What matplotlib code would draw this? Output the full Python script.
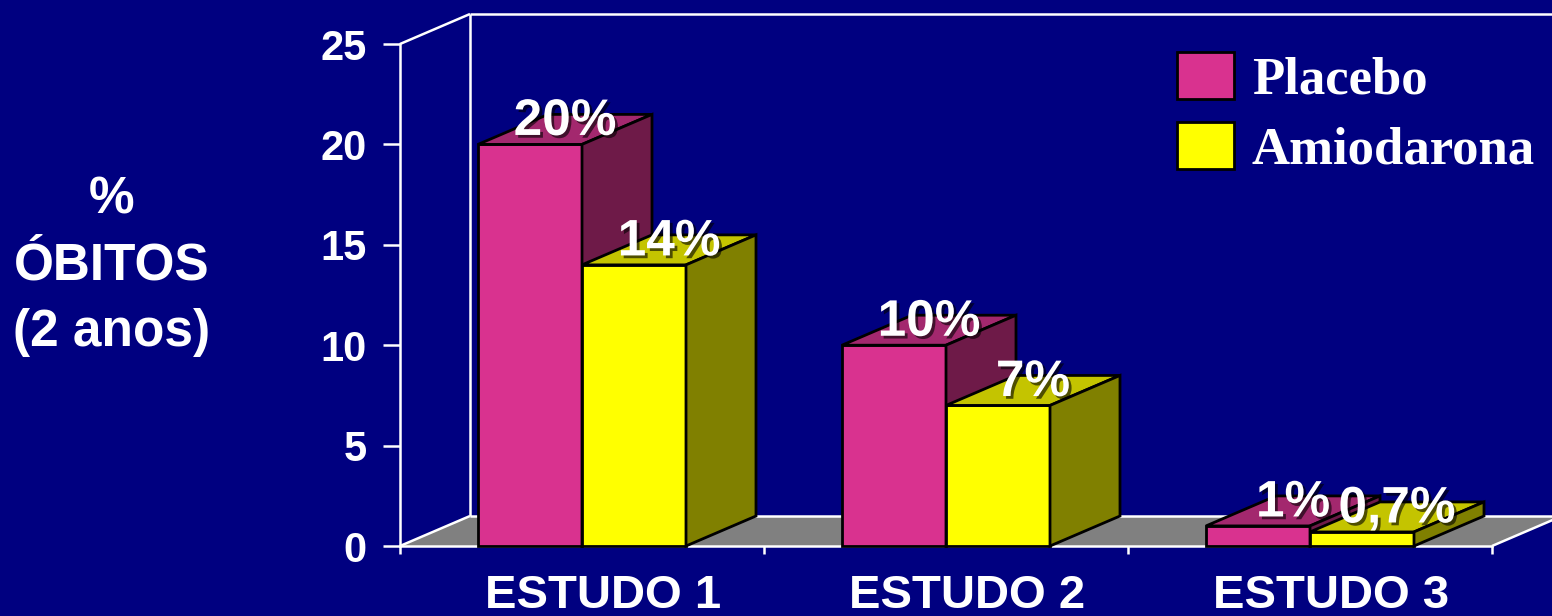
import matplotlib
matplotlib.use('Agg')
import matplotlib.pyplot as plt
from matplotlib.patches import Polygon, Patch
import matplotlib.patheffects as pe

# dados
estudos = ['ESTUDO 1', 'ESTUDO 2', 'ESTUDO 3']
placebo = [20, 10, 1]
amiodarona = [14, 7, 0.7]
rotulos_placebo = ['20%', '10%', '1%']
rotulos_amiodarona = ['14%', '7%', '0,7%']
series = ['Placebo', 'Amiodarona']
yticks = [0, 5, 10, 15, 20, 25]

NAVY = '#000080'
GRAY = '#808080'
PINK = ('#D9328F', '#A3286E', '#6E1A48')      # frente, topo, lado
YELLOW = ('#FFFF00', '#C4C400', '#808000')

W, H = 1552, 616
x0, y0 = 400, 546          # origem do gráfico (px)
sx, sy = 364, 20.08        # px por categoria / px por %
DX, DY = 70 / sx, 30 / sy  # profundidade 3D
BAR_W = 104 / sx
GAP = (1 - 2 * BAR_W) / 2

plt.rcParams['font.family'] = ['Liberation Sans', 'DejaVu Sans']
plt.rcParams['font.weight'] = 'bold'

fig = plt.figure(figsize=(W / 100, H / 100), dpi=100, facecolor=NAVY)
ax = fig.add_axes([0, 0, 1, 1])
ax.set_facecolor(NAVY)
ax.set_xlim(-x0 / sx, (W - x0) / sx)
ax.set_ylim(-(H - y0) / sy, y0 / sy)
xmax = (W - x0) / sx + 0.1
ymax = yticks[-1]
n = len(estudos)

# piso e paredes
ax.add_patch(Polygon([(0, 0), (n, 0), (n + DX, DY), (DX, DY)],
                     closed=True, facecolor=GRAY, edgecolor='none', zorder=1))
lw = 1.8
for xs, ys in [([n, n + DX], [0, DY]),
               ([DX, xmax], [DY, DY]),
               ([0, DX], [0, DY]),
               ([DX, DX], [DY, ymax + DY]),
               ([0, DX], [ymax, ymax + DY]),
               ([DX, xmax], [ymax + DY, ymax + DY])]:
    ax.plot(xs, ys, color='white', lw=lw, zorder=2, solid_capstyle='butt')

# eixos
for s in ['top', 'right']:
    ax.spines[s].set_visible(False)
ax.spines['left'].set_position(('data', 0))
ax.spines['left'].set_bounds(0, ymax)
ax.spines['bottom'].set_position(('data', 0))
ax.spines['bottom'].set_bounds(0, n)
for s in ['left', 'bottom']:
    ax.spines[s].set_color('white')
    ax.spines[s].set_linewidth(lw)
    ax.spines[s].set_zorder(2)
ax.set_yticks(yticks)
ax.set_yticklabels([str(t) for t in yticks])
ax.set_xticks(range(n + 1))
ax.set_xticklabels([])
ax.tick_params(axis='y', direction='out', length=12, width=lw, color='white',
               labelcolor='white', labelsize=30, pad=12)
ax.tick_params(axis='x', direction='out', length=6, width=lw, color='white')


def barra(x, h, cores):
    frente, topo, lado = cores
    kw = dict(closed=True, edgecolor='black', lw=2, joinstyle='miter', zorder=3)
    ax.add_patch(Polygon([(x, 0), (x + BAR_W, 0), (x + BAR_W, h), (x, h)],
                         facecolor=frente, **kw))
    ax.add_patch(Polygon([(x, h), (x + BAR_W, h), (x + BAR_W + DX, h + DY), (x + DX, h + DY)],
                         facecolor=topo, **kw))
    ax.add_patch(Polygon([(x + BAR_W, 0), (x + BAR_W + DX, DY), (x + BAR_W + DX, h + DY), (x + BAR_W, h)],
                         facecolor=lado, **kw))


sombra = [pe.withSimplePatchShadow(offset=(2, -2), shadow_rgbFace='black', alpha=0.6)]
for i in range(n):
    for k, (vals, rot, cores) in enumerate([(placebo, rotulos_placebo, PINK),
                                            (amiodarona, rotulos_amiodarona, YELLOW)]):
        x = i + GAP + k * BAR_W
        h = vals[i]
        barra(x, h, cores)
        ax.annotate(rot[i], (x + BAR_W / 2 + DX / 2, h + DY / 2), xytext=(0, -4),
                    textcoords='offset points', ha='center', va='baseline',
                    fontsize=37, color='white', zorder=5, path_effects=sombra)
    ax.annotate(estudos[i], (i + 0.5, 0), xytext=(15, -45), textcoords='offset points',
                ha='center', va='baseline', fontsize=34, color='white')

fig.text(112 / W, 1 - 266 / H, '%\nÓBITOS\n(2 anos)', ha='center', va='center',
         fontsize=37, color='white', linespacing=1.46, multialignment='center')

handles = [Patch(facecolor=PINK[0], edgecolor='black', lw=2),
           Patch(facecolor=YELLOW[0], edgecolor='black', lw=2)]
ax.legend(handles, series, loc='upper left', bbox_to_anchor=(1177 / W, 1 - 52 / H),
          bbox_transform=fig.transFigure, frameon=False, borderpad=0, borderaxespad=0,
          handlelength=1.08, handleheight=1.0, handletextpad=0.34, labelspacing=0.33,
          labelcolor='white', prop={'family': 'Liberation Serif', 'weight': 'bold', 'size': 38})

fig.savefig('out.png', dpi=100, facecolor=NAVY)
